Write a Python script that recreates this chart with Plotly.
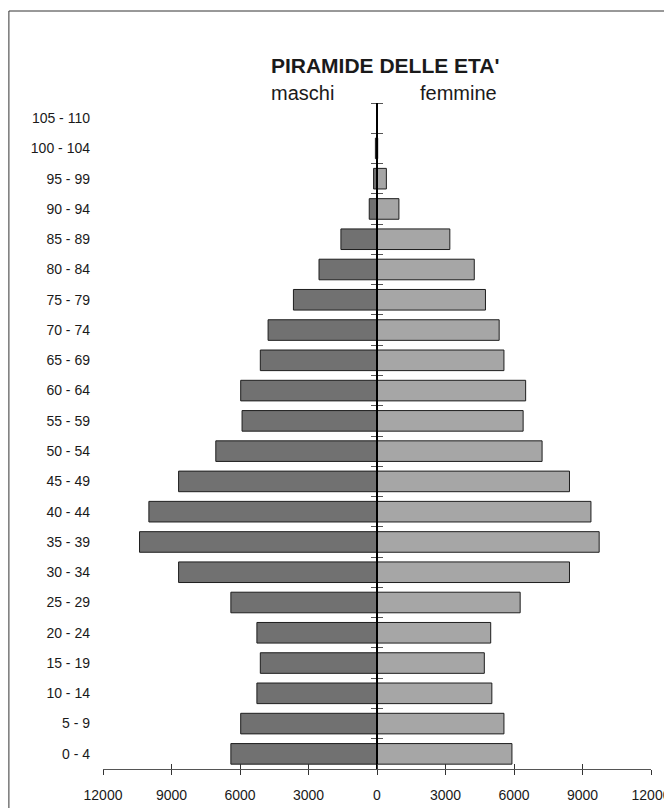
import plotly.graph_objects as go

age_groups = ["0 - 4", "5 - 9", "10 - 14", "15 - 19", "20 - 24", "25 - 29", "30 - 34",
              "35 - 39", "40 - 44", "45 - 49", "50 - 54", "55 - 59", "60 - 64", "65 - 69",
              "70 - 74", "75 - 79", "80 - 84", "85 - 89", "90 - 94", "95 - 99",
              "100 - 104", "105 - 110"]
maschi = [6400, 5970, 5260, 5110, 5260, 6400, 8690, 10400, 9990, 8690, 7060, 5910,
          5970, 5110, 4770, 3660, 2540, 1580, 340, 150, 70, 0]
femmine = [5910, 5560, 5030, 4700, 4980, 6270, 8430, 9730, 9370, 8430, 7230, 6400,
           6510, 5560, 5350, 4750, 4260, 3190, 960, 410, 30, 0]
x_tick_vals = [-12000, -9000, -6000, -3000, 0, 3000, 6000, 9000, 12000]
x_tick_text = ["12000", "9000", "6000", "3000", "0", "3000", "6000", "9000", "12000"]

pos = list(range(len(age_groups)))
boundaries = [p - 0.5 for p in pos] + [pos[-1] + 0.5]
y_range = [-0.5, len(age_groups) - 0.5]

FONT = "Liberation Sans, Arial, sans-serif"

# page offset of the figure inside the browser window (default body margin)
OFF = 8
L, T, W, H = 102.6 - OFF, 103 - OFF, 548, 666

fig = go.Figure()
fig.add_trace(go.Bar(
    y=pos, x=[-v for v in maschi], orientation="h", name="maschi",
    marker=dict(color="#717171", line=dict(color="#1e1e1e", width=1)),
    hoverinfo="skip",
))
fig.add_trace(go.Bar(
    y=pos, x=femmine, orientation="h", name="femmine",
    marker=dict(color="#a6a6a6", line=dict(color="#1e1e1e", width=1)),
    hoverinfo="skip",
))
# empty helper traces so the overlaid tick axes get drawn
for xa, ya in [("x2", "y"), ("x", "y2"), ("x", "y3")]:
    fig.add_trace(go.Scatter(x=[None], y=[None], xaxis=xa, yaxis=ya, mode="markers",
                             showlegend=False, hoverinfo="skip"))

fig.update_layout(
    width=672, height=808,
    margin=dict(l=L, r=672 - L - W, t=T, b=808 - T - H, autoexpand=False),
    paper_bgcolor="white", plot_bgcolor="white",
    barmode="overlay", bargap=0.32, showlegend=False,
    font=dict(family=FONT, size=14, color="#1a1a1a"),
    title=dict(text="<b>PIRAMIDE DELLE ETA'</b>", x=0.515, xref="paper", xanchor="center",
               y=1 - (66 - OFF) / 808, yanchor="middle", yref="container",
               font=dict(family=FONT, size=21, color="#1a1a1a")),
    xaxis=dict(range=[-12000, 12000], tickvals=x_tick_vals, ticktext=x_tick_text,
               showgrid=False, zeroline=False, showline=True, linecolor="#555555", linewidth=1,
               ticks="outside", ticklen=5, tickcolor="#333333", tickwidth=1,
               ticklabelstandoff=8, tickfont=dict(size=14), automargin=False),
    xaxis2=dict(range=[-12000, 12000], overlaying="x", anchor="y", side="bottom",
                tickvals=x_tick_vals, showticklabels=False, showgrid=False, zeroline=False,
                ticks="inside", ticklen=5, tickcolor="#333333", tickwidth=1, automargin=False),
    yaxis=dict(range=y_range, tickvals=pos, ticktext=age_groups,
               showgrid=False, zeroline=False, showline=False, ticks="",
               ticklabelstandoff=12, tickfont=dict(size=14), automargin=False),
    yaxis2=dict(range=y_range, overlaying="y", anchor="free",
                position=0.5, side="left", tickvals=boundaries, showticklabels=False,
                showgrid=False, zeroline=False, showline=True, linecolor="#000000",
                linewidth=1.5, ticks="outside", ticklen=5, tickcolor="#555555", tickwidth=1,
                automargin=False),
    yaxis3=dict(range=y_range, overlaying="y", anchor="free",
                position=0.5, side="right", tickvals=boundaries, showticklabels=False,
                showgrid=False, zeroline=False, showline=False,
                ticks="outside", ticklen=5, tickcolor="#555555", tickwidth=1,
                automargin=False),
    annotations=[
        dict(text="maschi", x=0.364, y=1.015, xref="paper", yref="paper",
             xanchor="center", yanchor="middle", showarrow=False,
             font=dict(family=FONT, size=20, color="#1a1a1a")),
        dict(text="femmine", x=0.6485, y=1.015, xref="paper", yref="paper",
             xanchor="center", yanchor="middle", showarrow=False,
             font=dict(family=FONT, size=20, color="#1a1a1a")),
    ],
    shapes=[
        dict(type="rect", xref="paper", yref="paper", x0=(8.5 - OFF - L) / W, x1=1.2,
             y0=-0.2, y1=1 + (T - (11 - OFF)) / H, line=dict(color="#333333", width=1),
             fillcolor="rgba(0,0,0,0)", layer="below"),
    ],
)

fig.write_html("out.html")
